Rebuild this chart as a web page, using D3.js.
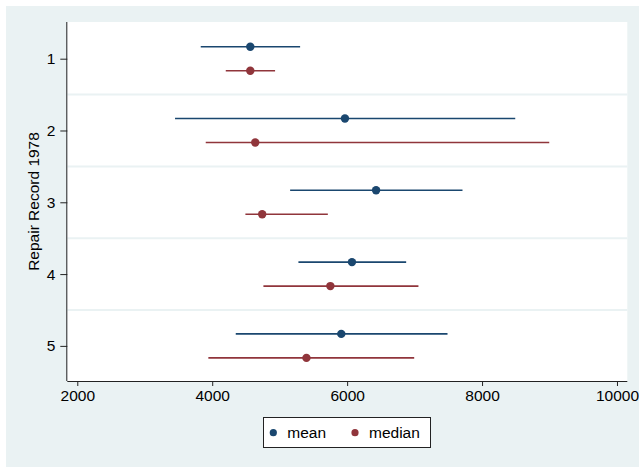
<!DOCTYPE html>
<html>
<head>
<meta charset="utf-8">
<script src="https://cdn.jsdelivr.net/npm/d3@7"></script>
<style>
html,body{margin:0;padding:0;background:#fff;}
svg{display:block;}
text{font-family:"Liberation Sans",Arial,Helvetica,sans-serif;fill:#000;}
</style>
</head>
<body>
<div id="chart"></div>
<script>
const categories = [1, 2, 3, 4, 5];
const meanValues = [4564.5, 5967.6, 6429.2, 6071.5, 5913.1];
const meanLow    = [3830, 3449, 5155, 5278, 4349];
const meanHigh   = [5303, 8492, 7710, 6875, 7488];
const medianValues = [4564.5, 4638, 4741, 5751.5, 5397];
const medianLow    = [4201, 3904, 4492, 4759, 3943];
const medianHigh   = [4932, 8996, 5714, 7057, 6994];
const xTicks = [2000, 4000, 6000, 8000, 10000];
const seriesNames = ["mean", "median"];
const colors = {mean: "#1a476f", median: "#90353b"};

const W = 639, H = 467;
const FS = 15.5;
const svg = d3.select("#chart").append("svg").attr("width", W).attr("height", H);

svg.append("rect").attr("x", 6).attr("y", 6).attr("width", W - 6).attr("height", H - 6).attr("fill", "#eaf2f3");

const m = {left: 67.3, top: 22, right: 627.3, bottom: 381};
svg.append("rect").attr("x", m.left).attr("y", m.top).attr("width", m.right - m.left).attr("height", m.bottom - m.top).attr("fill", "#fff");

const x = d3.scaleLinear().domain([1852, 10153]).range([m.left, m.right]);
const y = d3.scaleLinear().domain([0.489, 5.489]).range([m.top, m.bottom]);
const off = 0.167;

const seps = categories.slice(0, -1).map(c => c + 0.5);
svg.append("g").selectAll("line").data(seps).join("line")
  .attr("x1", m.left).attr("x2", m.right)
  .attr("y1", d => y(d)).attr("y2", d => y(d))
  .attr("stroke", "#eaf2f3").attr("stroke-width", 2);

function drawSeries(vals, lo, hi, color, dy) {
  const g = svg.append("g");
  g.selectAll("line").data(categories).join("line")
    .attr("x1", (d, i) => x(lo[i])).attr("x2", (d, i) => x(hi[i]))
    .attr("y1", d => y(d + dy)).attr("y2", d => y(d + dy))
    .attr("stroke", color).attr("stroke-width", 1.6);
  g.selectAll("circle").data(categories).join("circle")
    .attr("cx", (d, i) => x(vals[i])).attr("cy", d => y(d + dy))
    .attr("r", 4.2).attr("fill", color);
}
drawSeries(meanValues, meanLow, meanHigh, colors.mean, -off);
drawSeries(medianValues, medianLow, medianHigh, colors.median, off);

const xAxis = d3.axisBottom(x).tickValues(xTicks).tickSize(5).tickPadding(4).tickFormat(d3.format("d"));
const gx = svg.append("g").attr("transform", `translate(0,${m.bottom})`).call(xAxis)
  .attr("font-size", FS).attr("font-family", null);
gx.select(".domain").attr("d", `M${m.left},0.5H${m.right}`).attr("stroke", "#222");
gx.selectAll(".tick line").attr("stroke", "#222");
gx.selectAll("text").style("font-size", FS + "px").attr("fill", "#000");

const yAxis = d3.axisLeft(y).tickValues(categories).tickSize(7).tickPadding(5).tickFormat(d3.format("d"));
const gy = svg.append("g").attr("transform", `translate(${m.left},0)`).call(yAxis)
  .attr("font-size", FS).attr("font-family", null);
gy.select(".domain").attr("d", `M-0.5,${m.top}V${m.bottom}`).attr("stroke", "#222");
gy.selectAll(".tick line").attr("stroke", "#222");
gy.selectAll("text").style("font-size", FS + "px").attr("fill", "#000");

svg.append("text").attr("transform", `translate(39,${(m.top + m.bottom) / 2}) rotate(-90)`)
  .attr("text-anchor", "middle").style("font-size", FS + "px").text("Repair Record 1978");

const lg = svg.append("g");
lg.append("rect").attr("x", 263.5).attr("y", 417.5).attr("width", 167).attr("height", 30)
  .attr("fill", "#fff").attr("stroke", "#222").attr("stroke-width", 1);
const lx = [273.3, 355];
seriesNames.forEach((s, i) => {
  lg.append("circle").attr("cx", lx[i]).attr("cy", 432.7).attr("r", 3.6).attr("fill", colors[s]);
  lg.append("text").attr("x", lx[i] + 14).attr("y", 438.2).style("font-size", FS + "px").text(s);
});
</script>
</body>
</html>
